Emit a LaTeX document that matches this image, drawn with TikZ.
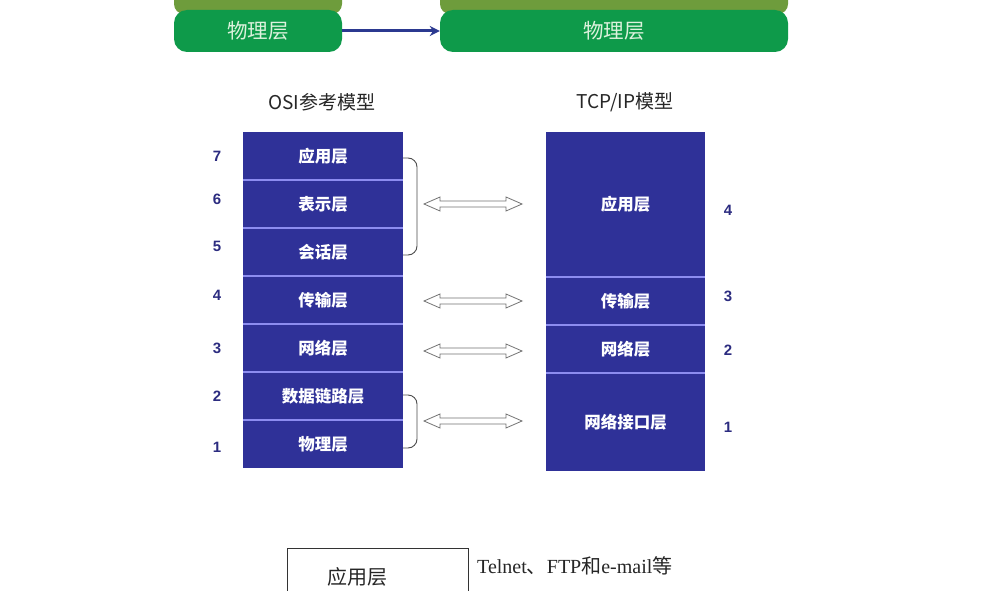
\documentclass[tikz,border=0pt]{standalone}
\usepackage{fontspec}
\setmainfont{Liberation Serif}
\setsansfont{Liberation Sans}
\newfontfamily\cjk{Noto Sans CJK SC}
\usetikzlibrary{arrows.meta}
\definecolor{osiblue}{HTML}{2F3198}
\definecolor{sepblue}{HTML}{8C8CF0}
\definecolor{numblue}{HTML}{2C2C80}
\definecolor{pillgreen}{HTML}{0E9A4A}
\definecolor{olive}{HTML}{6E9C3C}
\definecolor{pilltext}{HTML}{DDF2DD}
\definecolor{arrowblue}{HTML}{2B3990}
\tikzset{
  layerbox/.style={draw=none, fill=osiblue, minimum width=160pt, inner sep=0pt, anchor=north west,
    text=white, font=\cjk\bfseries\fontsize{16.5}{16.5}\selectfont},
  sepline/.style={sepblue, line width=1.6pt},
  numlabel/.style={text=numblue, font=\sffamily\bfseries\fontsize{15}{15}\selectfont},
  title/.style={font=\cjk\fontsize{19}{19}\selectfont, text=black!85},
  pill/.style={fill=pillgreen, rounded corners=13pt, inner sep=0pt, text=pilltext,
    font=\cjk\fontsize{20.5}{20.5}\selectfont, minimum height=42pt},
  olivebar/.style={fill=olive, rounded corners=10pt},
  bracket/.style={draw=black!70, line width=0.9pt, rounded corners=9pt},
  hollow/.style={draw=black!55, fill=white, line width=0.8pt, line join=miter},
}
\newcommand{\hollowarrow}[1]{%
  \draw[hollow] (#1) -- ++(16,-7) -- ++(0,4) -- ++(66,0) -- ++(0,-4) -- ++(16,7)
    -- ++(-16,7) -- ++(0,-4) -- ++(-66,0) -- ++(0,4) -- cycle;}
\begin{document}
\begin{tikzpicture}[x=1pt,y=-1pt]
\useasboundingbox (0,0) rectangle (1006,591);
\fill[white] (0,0) rectangle (1006,591);

% top green part
\fill[olivebar] (174,-20) rectangle (342,14);
\fill[olivebar] (440,-20) rectangle (788,14);
\node[pill, minimum width=168pt] (gL) at (258,31) {物理层};
\node[pill, minimum width=348pt] (gR) at (614,31) {物理层};
\draw[arrowblue, line width=3pt, -{Stealth[length=10pt,width=10pt]}] (gL.east) -- (gR.west);

% titles
\node[title] (tOSI) at (322,102) {OSI参考模型};
\node[title] (tTCP) at (625,102) {TCP/IP模型};

% OSI layers
\node[layerbox, minimum height=48pt] (o7) at (243,132) {应用层};
\node[layerbox, minimum height=48pt] (o6) at (243,180) {表示层};
\node[layerbox, minimum height=48pt] (o5) at (243,228) {会话层};
\node[layerbox, minimum height=48pt] (o4) at (243,276) {传输层};
\node[layerbox, minimum height=48pt] (o3) at (243,324) {网络层};
\node[layerbox, minimum height=48pt] (o2) at (243,372) {数据链路层};
\node[layerbox, minimum height=48pt] (o1) at (243,420) {物理层};
\foreach \a in {o6,o5,o4,o3,o2,o1}
  \draw[sepline] (\a.north west) -- (\a.north east);

% OSI numbers
\node[numlabel] (n7) at (217,156) {7};
\node[numlabel] (n6) at (217,199) {6};
\node[numlabel] (n5) at (217,246) {5};
\node[numlabel] (n4) at (217,295) {4};
\node[numlabel] (n3) at (217,348) {3};
\node[numlabel] (n2) at (217,396) {2};
\node[numlabel] (n1) at (217,447) {1};

% TCP/IP layers
\node[layerbox, minimum width=159pt, minimum height=145pt] (t4) at (546,132) {应用层};
\node[layerbox, minimum width=159pt, minimum height=48pt] (t3) at (546,277) {传输层};
\node[layerbox, minimum width=159pt, minimum height=48pt] (t2) at (546,325) {网络层};
\node[layerbox, minimum width=159pt, minimum height=98pt] (t1) at (546,373) {\raisebox{-6pt}{网络接口层}};
\foreach \a in {t3,t2,t1}
  \draw[sepline] (\a.north west) -- (\a.north east);

% TCP numbers
\node[numlabel] (m4) at (728,210) {4};
\node[numlabel] (m3) at (728,296) {3};
\node[numlabel] (m2) at (728,350) {2};
\node[numlabel] (m1) at (728,427) {1};

% brackets
\draw[bracket] (403,158) -- (417,158) -- (417,255) -- (403,255);
\draw[bracket] (403,395) -- (417,395) -- (417,448) -- (403,448);

% hollow double arrows
\coordinate (a1) at (424,204);
\coordinate (a2) at (424,301);
\coordinate (a3) at (424,351);
\coordinate (a4) at (424,421);
\hollowarrow{a1}
\hollowarrow{a2}
\hollowarrow{a3}
\hollowarrow{a4}

% bottom
\node[draw=black!80, line width=1pt, minimum width=181pt, minimum height=60pt, anchor=north west,
  inner sep=0pt] (bApp) at (287,548) {};
\node[font=\cjk\fontsize{20}{20}\selectfont, text=black!85] (bAppT) at (357,577) {应用层};
\node[anchor=west, font=\fontsize{20}{20}\selectfont, text=black!85, inner sep=0pt] (bTxt) at (477,566)
  {Telnet{\cjk 、}FTP{\cjk 和}e-mail{\cjk 等}};
\end{tikzpicture}
\end{document}
